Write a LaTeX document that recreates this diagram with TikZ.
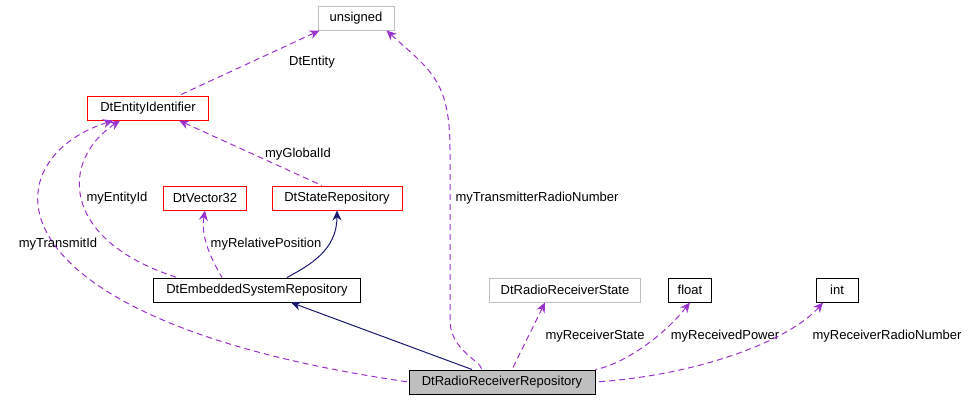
\documentclass[tikz,border=0pt]{standalone}
\usepackage{fontspec}
\setmainfont{Liberation Sans}
\usetikzlibrary{arrows.meta}
\definecolor{edgepurple}{RGB}{154,50,205}
\definecolor{edgenavy}{RGB}{25,25,112}
\definecolor{boxgray}{RGB}{191,191,191}
\tikzset{
  cls/.style={draw=black,rectangle,line width=1pt,minimum height=24pt,inner xsep=4pt,font=\fontsize{13}{15}\selectfont},
  redcls/.style={cls,draw=red},
  graycls/.style={cls,draw=boxgray},
  uses/.style={draw=edgepurple,line width=1pt,dash pattern=on 6pt off 4pt,{Stealth[length=10pt,width=9pt]}-},
  isa/.style={draw=edgenavy,line width=1pt,{Stealth[length=10pt,width=9pt]}-},
  lbl/.style={font=\fontsize{13}{15}\selectfont,inner sep=1pt}
}
\begin{document}
\begin{tikzpicture}[x=1pt,y=-1pt]
   \useasboundingbox (0,0) rectangle (969,400);
   \node[graycls,minimum width=76pt] (unsig) at (356,18) {unsigned};
   \node[redcls,minimum width=121pt] (eid) at (148,108) {DtEntityIdentifier};
   \node[redcls,minimum width=83pt] (vec) at (205,198) {DtVector32};
   \node[redcls,minimum width=130pt] (state) at (337,198) {DtStateRepository};
   \node[cls,minimum width=207pt] (emb) at (257,290) {DtEmbeddedSystemRepository};
   \node[graycls,minimum width=151pt] (rstate) at (565,290) {DtRadioReceiverState};
   \node[cls,minimum width=43pt] (flt) at (690,290) {float};
   \node[cls,minimum width=42pt] (intn) at (837,290) {int};
   \node[cls,fill=boxgray,minimum width=186pt] (recv) at (502,382) {DtRadioReceiverRepository};

   \draw[uses] ([xshift=2pt]unsig.south west) -- ([xshift=-30pt]eid.north east);
   \node[lbl] (lentity) at (312,62) {DtEntity};
   \draw[uses] ([xshift=-30pt]eid.south east) -- ([xshift=-15pt]state.north);
   \node[lbl] (lglobal) at (298,154) {myGlobalId};
   \draw[uses] ([xshift=-28pt]eid.south) .. controls (60,160) and (60,240) .. ([xshift=-80pt]emb.north);
   \node[lbl] (lentid) at (117,198) {myEntityId};
   \draw[uses] (vec.south) .. controls (200,240) and (215,265) .. ([xshift=-35pt]emb.north);
   \node[lbl] (lrel) at (266,244) {myRelativePosition};
   \draw[isa] (state.south) .. controls (337,250) and (310,265) .. ([xshift=30pt]emb.north);
   \draw[isa] ([xshift=-70pt]emb.south east) -- ([xshift=-30pt]recv.north);
   \draw[uses] ([xshift=-35pt]eid.south) .. controls (-10,160) and (-20,320) .. (recv.west);
   \node[lbl] (ltrans) at (58,244) {myTransmitId};
   \draw[uses] ([xshift=-8pt]unsig.south east) .. controls (430,70) and (450,80) .. (450,150)
      -- (450,320) .. controls (450,350) and (480,360) .. ([xshift=-20pt]recv.north);
   \node[lbl] (ltrnum) at (537,198) {myTransmitterRadioNumber};
   \draw[uses] ([xshift=-20pt]rstate.south) -- ([xshift=10pt]recv.north);
   \node[lbl] (lrstate) at (595,336) {myReceiverState};
   \draw[uses] (flt.south) .. controls (660,340) and (620,365) .. (recv.north east);
   \node[lbl] (lpower) at (725,336) {myReceivedPower};
   \draw[uses] ([xshift=-14pt]intn.south) .. controls (790,340) and (700,375) .. (recv.east);
   \node[lbl] (lradio) at (887,336) {myReceiverRadioNumber};
\end{tikzpicture}
\end{document}
